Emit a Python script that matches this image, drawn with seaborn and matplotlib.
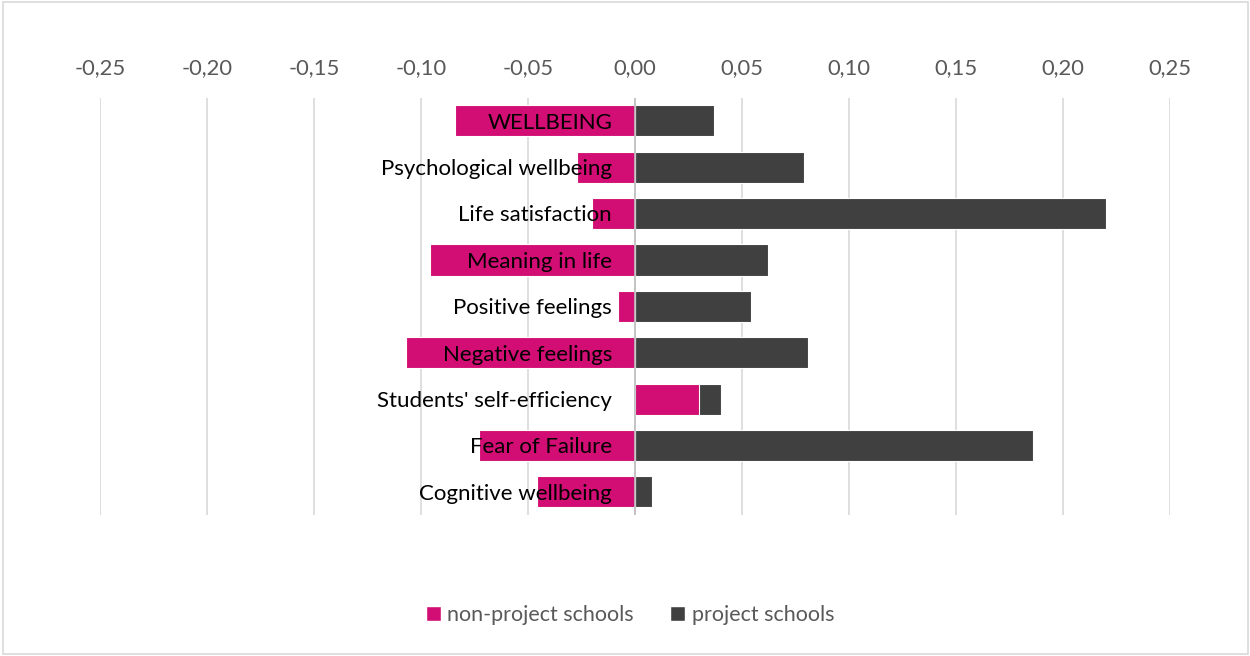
import matplotlib
matplotlib.use("Agg")
import matplotlib.pyplot as plt
import seaborn as sns
import pandas as pd
from matplotlib.patches import Patch, Rectangle

# Data
categories = ["WELLBEING", "Psychological wellbeing", "Life satisfaction",
              "Meaning in life", "Positive feelings", "Negative feelings",
              "Students' self-efficiency", "Fear of Failure", "Cognitive wellbeing"]
non_project = [-0.084, -0.027, -0.020, -0.096, -0.008, -0.107, 0.030, -0.073, -0.046]
project = [0.037, 0.079, 0.220, 0.062, 0.054, 0.081, 0.040, 0.186, 0.008]
ticks = [-0.25, -0.20, -0.15, -0.10, -0.05, 0.00, 0.05, 0.10, 0.15, 0.20, 0.25]

MAGENTA = "#D20D74"
DARK = "#404040"

sns.set_theme(style="white")
plt.rcParams['font.family'] = ['Lato', 'DejaVu Sans']

df = pd.DataFrame({"category": categories, "non_project": non_project, "project": project})

fig = plt.figure(figsize=(12.5, 6.56), dpi=100)
ax = fig.add_axes([0.08, 0.215, 0.856, 0.636])

# project bars first, non-project drawn on top (looks like the stacked original)
sns.barplot(data=df, y="category", x="project", color=DARK, orient="h",
            width=0.67, edgecolor="white", linewidth=0.8, saturation=1, ax=ax, zorder=2)
sns.barplot(data=df, y="category", x="non_project", color=MAGENTA, orient="h",
            width=0.67, edgecolor="white", linewidth=0.8, saturation=1, ax=ax, zorder=3)

ax.set_xlim(-0.25, 0.25)
ax.set_ylim(len(categories) - 0.5, -0.5)
ax.set_xticks(ticks)
ax.set_xticklabels([f"{t:.2f}".replace(".", ",") for t in ticks])
ax.xaxis.tick_top()
ax.tick_params(axis="x", length=0, pad=14, labelsize=15.8, labelcolor="#595959")
ax.set_yticks([])
ax.set_xlabel("")
ax.set_ylabel("")
ax.grid(axis="x", color="#D9D9D9", linewidth=1.2, zorder=0)
ax.set_axisbelow(True)
for s in ax.spines.values():
    s.set_visible(False)
ax.axvline(0, color="#BFBFBF", linewidth=1.2, zorder=4)

# category labels sit next to the zero line
for i, name in enumerate(categories):
    ax.text(-0.0107, i + 0.04, name, ha="right", va="center", fontsize=16,
            color="black", zorder=5)

handles = [Patch(facecolor=MAGENTA, label="non-project schools"),
           Patch(facecolor=DARK, label="project schools")]
fig.legend(handles=handles, loc="center", bbox_to_anchor=(0.504, 0.062), ncol=2,
           frameon=False, fontsize=15.5, labelcolor="#595959", handlelength=0.7,
           handleheight=0.7, handletextpad=0.3, columnspacing=1.7)

fig.patches.append(Rectangle((0.002, 0.003), 0.996, 0.994, transform=fig.transFigure,
                             fill=False, edgecolor="#D9D9D9", linewidth=1.2))

fig.savefig("out.png", dpi=100)
